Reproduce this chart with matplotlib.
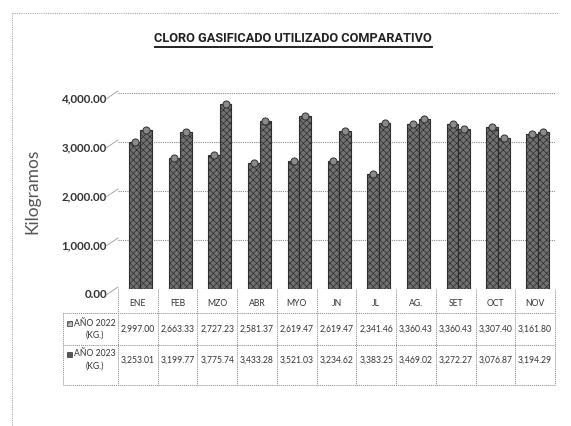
import matplotlib
matplotlib.use('Agg')
import matplotlib.pyplot as plt
from matplotlib.lines import Line2D
from matplotlib.patches import Rectangle
import matplotlib.transforms as mtransforms

# datos
meses = ['ENE', 'FEB', 'MZO', 'ABR', 'MYO', 'JN', 'JL', 'AG.', 'SET', 'OCT', 'NOV']
anio_2022 = [2997.00, 2663.33, 2727.23, 2581.37, 2619.47, 2619.47, 2341.46, 3360.43, 3360.43, 3307.40, 3161.80]
anio_2023 = [3253.01, 3199.77, 3775.74, 3433.28, 3521.03, 3234.62, 3383.25, 3469.02, 3272.27, 3076.87, 3194.29]
series = ['AÑO 2022', 'AÑO 2023']
yticks = [0, 1000, 2000, 3000, 4000]

W, H = 571, 426

def fx(px):
    return px / W

def fy(py):
    return 1 - py / H

plt.rcParams['hatch.color'] = '#3a3a3a'
plt.rcParams['hatch.linewidth'] = 0.5

fig = plt.figure(figsize=(W / 100, H / 100), dpi=100)
fig.patch.set_facecolor('white')

ax_left, ax_right, ax_bot, ax_top = 118, 555, 289, 93
ax = fig.add_axes([fx(ax_left), fy(ax_bot), fx(ax_right - ax_left), fy(ax_top) - fy(ax_bot)])
ax.set_xlim(-0.5, len(meses) - 0.5)
ax.set_ylim(0, 4000)
ax.set_facecolor('none')
for s in ax.spines.values():
    s.set_visible(False)

# barras tipo cilindro
x = list(range(len(meses)))
ancho = 0.29
for vals, off in [(anio_2022, -0.08), (anio_2023, 0.21)]:
    xs = [i + off for i in x]
    ax.bar(xs, vals, width=ancho, color='#717171', edgecolor='#2e2e2e',
           linewidth=0.8, hatch='xxxxx', zorder=3)
    ax.scatter(xs, vals, s=26, marker='o', color='#8a8a8a', edgecolors='#2e2e2e',
               linewidths=0.7, zorder=4)

ax.set_yticks(yticks)
ax.set_yticklabels([f'{v:,.2f}' for v in yticks], fontsize=8.3, fontweight='bold',
                   color='#333333', family='Lato')
ax.tick_params(axis='y', length=0, pad=8)
ax.set_xticks([])
off = mtransforms.ScaledTranslation(0, -5 / 100, fig.dpi_scale_trans)
for lbl in ax.get_yticklabels():
    lbl.set_transform(lbl.get_transform() + off)
ax.grid(axis='y', color='#8a8a8a', linestyle=(0, (1, 1)), linewidth=0.8, zorder=0)

# diagonales de la pared 3D
for v in yticks:
    yy = ax_bot - (ax_bot - ax_top) * v / 4000
    fig.add_artist(Line2D([fx(ax_left - 12), fx(ax_left)], [fy(yy + 6), fy(yy - 2)],
                          color='#9a9a9a', lw=0.6))

ax.set_ylabel('Kilogramos', fontsize=12.5, color='#555555', family='Lato')
ax.yaxis.set_label_coords(fx(40 - ax_left) / fx(ax_right - ax_left), 0.5)

# titulo subrayado
fig.text(fx(293), fy(38), 'CLORO GASIFICADO UTILIZADO COMPARATIVO', ha='center', va='center',
         fontsize=9.2, fontweight='bold', family='Roboto', color='#222222')
fig.add_artist(Line2D([fx(155), fx(432)], [fy(47), fy(47)], color='#222222', lw=1.4))

# marco punteado
fig.add_artist(Line2D([fx(12), fx(558)], [fy(13), fy(13)], color='#aaaaaa', lw=0.8, ls=(0, (1, 1))))
fig.add_artist(Line2D([fx(12), fx(12)], [fy(13), fy(426)], color='#aaaaaa', lw=0.8, ls=(0, (1, 1))))

# tabla de datos
col_w = (ax_right - ax_left) / len(meses)
t_left, r0, r1, r2, r3 = 63, 289, 313, 345, 385
ls_tab = dict(color='#888888', lw=0.7, ls=(0, (1, 1)))
for yy in [r1, r2, r3]:
    fig.add_artist(Line2D([fx(t_left), fx(ax_right)], [fy(yy), fy(yy)], **ls_tab))
fig.add_artist(Line2D([fx(t_left), fx(t_left)], [fy(r1), fy(r3)], **ls_tab))
for i in range(len(meses) + 1):
    xx = ax_left + i * col_w
    fig.add_artist(Line2D([fx(xx), fx(xx)], [fy(r0), fy(r3)], **ls_tab))

txt = dict(family='Lato', color='#333333', fontsize=6.2, ha='center', va='center')
fila_y = [r1 + 16, r2 + 15]
for i, m in enumerate(meses):
    cx = ax_left + (i + 0.5) * col_w
    fig.text(fx(cx), fy((r0 + r1) / 2 + 3), m, **txt)
    fig.text(fx(cx), fy(fila_y[0]), f'{anio_2022[i]:,.2f}', **txt)
    fig.text(fx(cx), fy(fila_y[1]), f'{anio_2023[i]:,.2f}', **txt)

for nombre, cy, claro in [(series[0], fila_y[0], True), (series[1], fila_y[1], False)]:
    fig.add_artist(Rectangle((fx(67), fy(cy - 3)), fx(5), fy(0) - fy(5),
                             facecolor='#bbbbbb' if claro else '#555555',
                             edgecolor='#333333', lw=0.5, hatch='xxxx' if claro else None))
    fig.text(fx(74), fy(cy - 6), nombre, family='Lato', color='#333333', fontsize=6.2,
             ha='left', va='center')
    fig.text(fx(95), fy(cy + 6), '(KG.)', **txt)

fig.savefig('out.png', dpi=100)
